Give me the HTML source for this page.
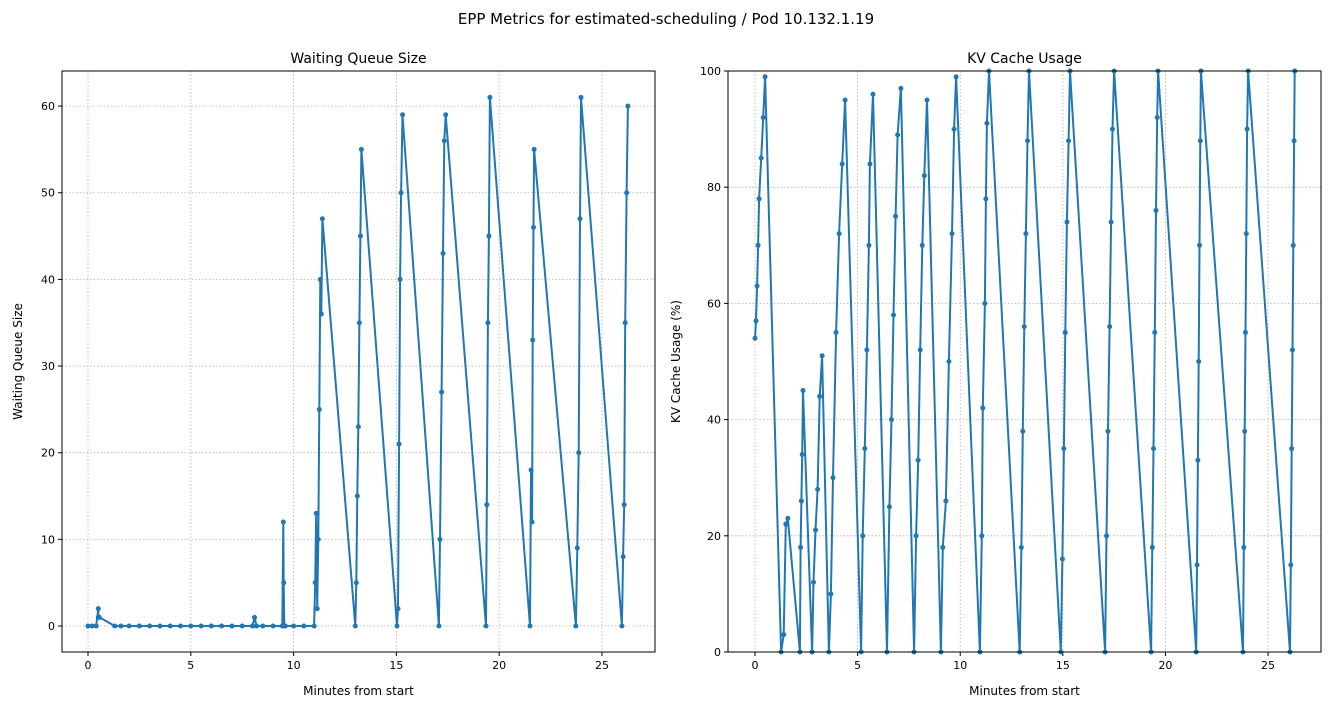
<!DOCTYPE html>
<html><head><meta charset="utf-8">
<style>
body{margin:0;background:#fff;}
svg text{font-family:"DejaVu Sans","Liberation Sans",sans-serif;fill:#000;}
</style></head>
<body>
<svg id="chart" width="1332" height="710" xmlns="http://www.w3.org/2000/svg">
<text x="666" y="24" font-size="15" text-anchor="middle">EPP Metrics for estimated-scheduling / Pod 10.132.1.19</text>
<g id="left"></g>
<g id="right"></g>
</svg>
<script>
const wqT=[0,0.2,0.4,0.5,0.5,0.55,1.3,1.6,2,2.5,3,3.5,4,4.5,5,5.5,6,6.5,7,7.5,8,8.1,8.2,8.5,9,9.45,9.5,9.52,9.55,9.6,10,10.5,11,11.05,11.1,11.15,11.2,11.25,11.3,11.35,11.4,
13.0,13.05,13.1,13.15,13.2,13.25,13.3,
15.03,15.08,15.13,15.18,15.23,15.3,
17.07,17.12,17.2,17.27,17.33,17.4,
19.36,19.4,19.45,19.5,19.55,
21.5,21.55,21.6,21.63,21.67,21.7,
23.73,23.8,23.87,23.93,23.98,
25.97,26.03,26.08,26.13,26.2,26.26];
const wqV=[0,0,0,2,1,1,0,0,0,0,0,0,0,0,0,0,0,0,0,0,0,1,0,0,0,0,12,5,0,0,0,0,0,5,13,2,10,25,40,36,47,
0,5,15,23,35,45,55,
0,2,21,40,50,59,
0,10,27,43,56,59,
0,14,35,45,61,
0,18,12,33,46,55,
0,9,20,47,61,
0,8,14,35,50,60];
const kvT=[0,0.05,0.1,0.15,0.2,0.3,0.4,0.49,
1.27,1.4,1.5,1.6,
2.19,2.22,2.26,2.3,2.34,
2.78,2.85,2.95,3.05,3.15,3.27,
3.6,3.7,3.8,3.95,4.1,4.25,4.39,
5.17,5.25,5.35,5.45,5.55,5.6,5.75,
6.43,6.55,6.65,6.75,6.85,6.95,7.11,
7.75,7.85,7.95,8.05,8.15,8.25,8.38,
9.06,9.15,9.3,9.45,9.6,9.7,9.8,
10.96,11.05,11.1,11.2,11.25,11.3,11.4,
12.9,12.98,13.05,13.12,13.2,13.28,13.35,
14.9,14.98,15.05,15.12,15.2,15.28,15.35,
17.06,17.13,17.2,17.28,17.35,17.42,17.5,
19.3,19.36,19.42,19.48,19.54,19.6,19.64,
21.5,21.54,21.58,21.62,21.66,21.7,21.73,
23.78,23.82,23.86,23.9,23.94,23.98,24.03,
26.07,26.11,26.15,26.19,26.23,26.27,26.3];
const kvV=[54,57,63,70,78,85,92,99,
0,3,22,23,
0,18,26,34,45,
0,12,21,28,44,51,
0,10,30,55,72,84,95,
0,20,35,52,70,84,96,
0,25,40,58,75,89,97,
0,20,33,52,70,82,95,
0,18,26,50,72,90,99,
0,20,42,60,78,91,100,
0,18,38,56,72,88,100,
0,16,35,55,74,88,100,
0,20,38,56,74,90,100,
0,18,35,55,76,92,100,
0,15,33,50,70,88,100,
0,18,38,55,72,90,100,
0,15,35,52,70,88,100];
const xTicks=[0,5,10,15,20,25];
const wqYTicks=[0,10,20,30,40,50,60];
const kvYTicks=[0,20,40,60,80,100];
const NS="http://www.w3.org/2000/svg";
function mk(tag,attrs,parent){const e=document.createElementNS(NS,tag);for(const k in attrs)e.setAttribute(k,attrs[k]);parent.appendChild(e);return e;}
function panel(g,box,xmin,xmax,ymin,ymax,yTicks,T,V,title,ylabel,pfx){
 const sx=t=>box.x+(t-xmin)/(xmax-xmin)*box.w;
 const sy=v=>box.y+box.h-(v-ymin)/(ymax-ymin)*box.h;
 xTicks.forEach(t=>{const X=sx(t);
  const l=mk('line',{x1:X,x2:X,y1:box.y,y2:box.y+box.h,stroke:'#b0b0b0','stroke-width':0.8,'stroke-dasharray':'1.5,2'},g);
  
  mk('line',{x1:X,x2:X,y1:box.y+box.h,y2:box.y+box.h+4,stroke:'#000'},g);
  const tx=mk('text',{x:X,y:box.y+box.h+17,'font-size':11,'text-anchor':'middle'},g);tx.textContent=t;
  });
 yTicks.forEach(v=>{const Y=sy(v);
  const l=mk('line',{x1:box.x,x2:box.x+box.w,y1:Y,y2:Y,stroke:'#b0b0b0','stroke-width':0.8,'stroke-dasharray':'1.5,2'},g);
  
  mk('line',{x1:box.x-4,x2:box.x,y1:Y,y2:Y,stroke:'#000'},g);
  const tx=mk('text',{x:box.x-7,y:Y+4,'font-size':11,'text-anchor':'end'},g);tx.textContent=v;
  });
 const cp=mk('clipPath',{id:pfx+'clip'},g);mk('rect',{x:box.x,y:box.y-3,width:box.w,height:box.h+6},cp);
 const sg=mk('g',{'clip-path':'url(#'+pfx+'clip)'},g);
 const d=T.map((t,i)=>(i?'L':'M')+sx(t).toFixed(1)+','+sy(V[i]).toFixed(1)).join('');
 const p=mk('path',{d:d,fill:'none',stroke:'#1f77b4','stroke-width':2},sg);
 
 T.forEach((t,i)=>{const c=mk('circle',{cx:sx(t),cy:sy(V[i]),r:2.5,fill:'#1f77b4'},sg);
  });
 const fr=mk('rect',{x:box.x,y:box.y,width:box.w,height:box.h,fill:'none',stroke:'#000','stroke-width':1},g);
 
 const ti=mk('text',{x:box.x+box.w/2,y:box.y-8,'font-size':14,'text-anchor':'middle'},g);ti.textContent=title;
 
 const xl=mk('text',{x:box.x+box.w/2,y:box.y+box.h+43,'font-size':12,'text-anchor':'middle'},g);xl.textContent='Minutes from start';
 
 const yx=box.x-(pfx==='wq'?40:48),yy=box.y+box.h/2;
 const yl=mk('text',{x:yx,y:yy,'font-size':12,'text-anchor':'middle',transform:'rotate(-90 '+yx+' '+yy+')'},g);yl.textContent=ylabel;
 
}
panel(document.getElementById('left'),{x:62,y:71,w:593,h:581},-1.265,27.58,-3,64.05,wqYTicks,wqT,wqV,'Waiting Queue Size','Waiting Queue Size','wq');
panel(document.getElementById('right'),{x:728,y:71,w:593,h:581},-1.316,27.58,0,100,kvYTicks,kvT,kvV,'KV Cache Usage','KV Cache Usage (%)','kv');
</script>
</body></html>
